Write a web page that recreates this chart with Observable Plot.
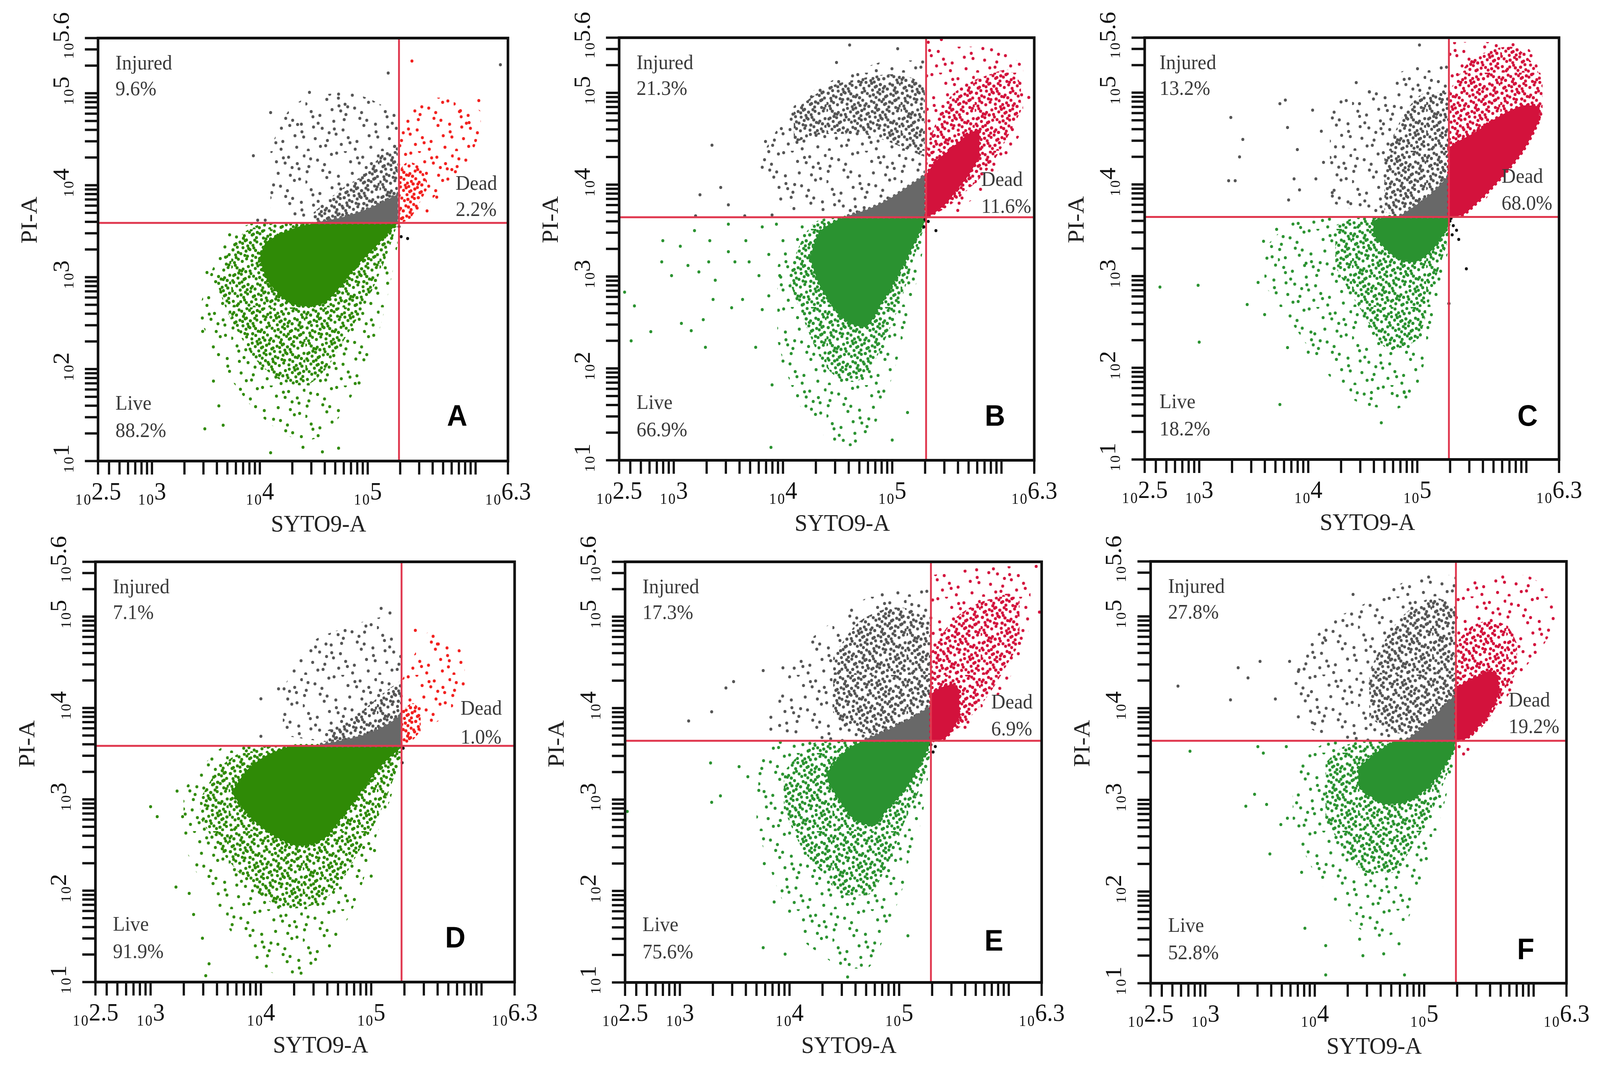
<!DOCTYPE html>
<html><head><meta charset="utf-8">
<script src="https://cdn.jsdelivr.net/npm/d3@7"></script>
<script src="https://cdn.jsdelivr.net/npm/@observablehq/plot@0.6"></script>
<style>
html,body{margin:0;padding:0;background:#fff;overflow:hidden;}
#page{position:relative;width:4317px;height:2732px;overflow:hidden;background:#fff;transform-origin:0 0;}
#page svg{position:absolute;overflow:visible;}
</style></head><body>
<svg width="0" height="0" style="position:absolute;left:0;top:0"><defs id="pats"></defs></svg>
<div id="page"></div>
<script>
// ---------- DATA (all positions in log10 units) ----------
const panelIds = ["A","B","C","D","E","F"];
const injuredPct = ["9.6%","21.3%","13.2%","7.1%","17.3%","27.8%"];
const deadPct    = ["2.2%","11.6%","68.0%","1.0%","6.9%","19.2%"];
const livePct    = ["88.2%","66.9%","18.2%","91.9%","75.6%","52.8%"];
const gateXExp   = [5.29, 5.31, 5.29, 5.275, 5.29, 5.29];
const gateYExp   = [3.59, 3.645, 3.645, 3.585, 3.643, 3.644];
const xTickExps  = [2.5, 3, 4, 5, 6.3];
const yTickExps  = [1, 2, 3, 4, 5, 5.6];
const xTitle = "SYTO9-A", yTitle = "PI-A";

const A_liveCore = [[4.00,3.20,3.20],[4.05,3.02,3.36],[4.15,2.85,3.44],[4.30,2.71,3.52],[4.45,2.68,3.57],[4.60,2.72,3.59],[4.75,2.90,3.59],[4.90,3.12,3.59],[5.05,3.30,3.59],[5.18,3.46,3.59],[5.27,3.58,3.59]];
const A_liveMid = [[3.60,2.95,2.95],[3.70,2.62,3.25],[3.80,2.40,3.42],[3.95,2.12,3.55],[4.10,1.95,3.59],[4.25,1.85,3.59],[4.40,1.82,3.59],[4.60,1.98,3.59],[4.80,2.35,3.59],[5.00,2.75,3.59],[5.15,3.15,3.59],[5.27,3.55,3.59]];
const A_liveSparse = [[3.45,2.55,2.70],[3.55,2.25,3.05],[3.70,1.95,3.40],[3.85,1.70,3.55],[4.00,1.50,3.59],[4.20,1.32,3.59],[4.40,1.22,3.59],[4.60,1.28,3.59],[4.80,1.60,3.59],[5.00,2.05,3.59],[5.15,2.60,3.59],[5.28,3.35,3.59]];
const A_injCore = [[4.55,3.59,3.60],[4.80,3.59,3.66],[5.00,3.59,3.74],[5.15,3.59,3.82],[5.28,3.59,3.90]];
const A_injMid = [[4.50,3.60,3.70],[4.75,3.60,3.95],[5.00,3.60,4.15],[5.15,3.60,4.35],[5.28,3.62,4.45]];
const A_injSparse = [[4.10,3.75,4.40],[4.30,3.62,4.85],[4.55,3.60,4.98],[4.80,3.60,5.00],[5.05,3.62,4.92],[5.28,3.66,4.75]];
const A_deadCore = [];
const A_deadMid = [[5.29,3.59,4.15],[5.38,3.62,4.25],[5.48,3.80,4.20],[5.55,3.95,4.05]];
const A_deadSparse = [[5.29,3.60,4.60],[5.45,3.70,4.85],[5.60,3.85,4.95],[5.80,4.10,4.95],[5.95,4.30,4.90],[6.05,4.60,4.80]];
const A_liveDots = [[3.49,1.35],[3.66,1.39],[3.82,1.78],[3.57,1.87],[4.10,1.09],[4.73,1.14],[3.47,2.41],[3.51,3.05],[3.72,3.46],[4.92,1.85],[4.89,2.11],[4.40,1.15],[4.58,1.10],[3.62,1.60]];
const A_injDots = [[3.94,4.32],[4.10,4.79],[4.20,4.62],[4.35,4.66],[4.46,5.01],[4.73,4.99],[5.19,5.22],[4.79,4.88],[6.23,5.31],[3.98,3.62],[4.05,3.62]];
const A_deadDots = [[5.41,5.35],[6.03,4.92],[5.86,4.81],[5.94,4.68],[5.78,4.17],[5.64,3.87],[5.55,3.72]];
const A_blackDots = [[5.37,3.42],[5.31,3.44],[5.29,3.55]];

const B_liveCore = [[4.25,3.20,3.20],[4.32,2.95,3.45],[4.45,2.70,3.58],[4.60,2.50,3.645],[4.75,2.45,3.645],[4.90,2.70,3.645],[5.05,3.00,3.645],[5.18,3.30,3.645],[5.30,3.60,3.645]];
const B_liveMid = [[4.06,2.95,3.05],[4.20,2.50,3.45],[4.35,2.10,3.62],[4.50,1.90,3.645],[4.65,1.85,3.645],[4.80,2.00,3.645],[4.95,2.35,3.645],[5.10,2.80,3.645],[5.20,3.20,3.645],[5.30,3.55,3.645]];
const B_liveSparse = [[3.95,2.30,3.10],[4.05,1.90,3.40],[4.20,1.50,3.60],[4.40,1.25,3.645],[4.60,1.15,3.645],[4.80,1.30,3.645],[5.00,1.90,3.645],[5.20,2.80,3.645],[5.31,3.45,3.645]];
const B_injCore = [[4.60,3.645,3.66],[4.80,3.645,3.74],[5.00,3.645,3.86],[5.15,3.645,3.98],[5.30,3.645,4.10]];
const B_injMid = [[4.10,4.45,4.80],[4.40,4.55,5.05],[4.70,4.55,5.15],[5.00,4.45,5.20],[5.20,4.35,5.15],[5.30,4.30,5.05]];
const B_injSparse = [[3.80,4.00,4.30],[4.10,3.75,4.85],[4.40,3.70,5.10],[4.70,3.65,5.25],[5.00,3.65,5.35],[5.30,3.70,5.35]];
const B_deadCore = [[5.31,3.645,4.10],[5.40,3.70,4.25],[5.50,3.80,4.35],[5.60,3.95,4.45],[5.70,4.10,4.55],[5.80,4.30,4.60]];
const B_deadMid = [[5.31,3.645,4.40],[5.50,3.75,4.90],[5.70,3.95,5.10],[5.90,4.20,5.20],[6.05,4.50,5.25],[6.18,4.80,5.10]];
const B_deadSparse = [[5.31,3.645,5.50],[5.50,3.70,5.50],[5.80,3.90,5.50],[6.00,4.20,5.45],[6.20,4.60,5.30]];
const B_liveDots = [[2.90,3.39],[3.06,3.33],[3.19,3.50],[3.33,3.39],[3.50,3.57],[3.66,3.39],[3.81,3.54],[3.94,3.57],[2.89,3.16],[2.98,3.01],[3.13,3.12],[3.23,3.05],[3.32,3.16],[3.38,2.96],[3.50,3.27],[3.56,3.16],[3.69,3.16],[3.78,3.01],[3.87,3.24],[4.00,3.39],[2.55,2.83],[2.64,2.68],[2.79,2.40],[3.07,2.49],[3.16,2.41],[3.27,2.53],[3.36,2.75],[3.53,2.66],[3.63,2.75],[3.81,2.64],[3.87,2.79],[3.97,3.01],[2.61,2.30],[3.29,2.23],[3.75,2.23],[4.00,2.08],[3.90,1.82],[3.89,1.14],[4.21,1.59],[5.14,1.52],[5.00,1.22]];
const B_injDots = [[3.24,3.89],[3.43,3.97],[3.35,4.43],[3.81,4.19],[3.84,4.47],[3.87,4.36],[4.10,3.74],[3.90,3.67],[3.50,3.78],[4.61,5.52],[4.49,5.33],[5.05,5.48],[3.20,3.66],[3.65,3.66]];
const B_deadDots = [[5.33,5.55],[5.45,5.58],[5.60,3.72],[6.25,4.95]];
const B_blackDots = [[5.29,3.54],[5.40,3.50],[5.33,3.60],[5.30,3.62]];

const C_liveCore = [[4.60,3.45,3.60],[4.75,3.25,3.645],[4.95,3.15,3.645],[5.15,3.30,3.645],[5.29,3.55,3.645]];
const C_liveMid = [[4.25,3.10,3.55],[4.50,2.60,3.645],[4.75,2.20,3.645],[5.00,2.30,3.645],[5.15,2.90,3.645],[5.29,3.40,3.645]];
const C_liveSparse = [[3.60,2.90,3.30],[3.90,2.40,3.60],[4.20,1.90,3.645],[4.50,1.60,3.645],[4.80,1.55,3.645],[5.00,1.80,3.645],[5.20,2.80,3.645],[5.29,3.30,3.645]];
const C_injCore = [[4.85,3.645,3.66],[5.00,3.645,3.78],[5.15,3.645,3.92],[5.29,3.645,4.10]];
const C_injMid = [[4.70,3.70,4.30],[4.90,3.65,4.80],[5.10,3.65,5.00],[5.29,3.70,5.00]];
const C_injSparse = [[4.20,3.80,4.90],[4.50,3.70,5.00],[4.80,3.65,5.20],[5.10,3.65,5.30],[5.29,3.70,5.30]];
const C_deadCore = [[5.29,3.645,4.40],[5.40,3.66,4.48],[5.55,3.80,4.58],[5.70,3.98,4.70],[5.85,4.18,4.80],[6.00,4.42,4.86],[6.12,4.70,4.85]];
const C_deadMid = [[5.29,3.645,5.00],[5.45,3.70,5.30],[5.65,3.95,5.45],[5.85,4.25,5.50],[6.00,4.50,5.40],[6.15,4.80,5.15]];
const C_deadSparse = [[5.29,3.645,5.55],[5.50,3.70,5.55],[5.80,4.10,5.55],[6.00,4.40,5.50],[6.15,4.75,5.15]];
const C_liveDots = [[2.64,2.88],[2.99,2.90],[3.00,2.28],[3.44,2.69],[3.54,2.93],[3.60,2.58],[3.59,3.38],[3.71,3.51],[3.70,3.12],[3.79,3.20],[3.81,2.22],[3.74,1.60],[3.93,3.53],[3.98,3.14],[4.00,2.17],[4.06,2.37],[4.67,1.40],[4.88,1.73],[4.77,1.72],[4.58,1.73]];
const C_injDots = [[3.29,4.73],[3.40,4.49],[3.37,4.30],[3.27,4.04],[3.33,4.04],[3.74,4.88],[3.79,4.92],[3.81,4.62],[3.90,4.38],[3.87,4.06],[3.92,3.94],[3.82,3.83],[4.04,4.81],[4.12,4.58],[4.25,4.41],[4.14,4.24],[4.07,4.06],[4.22,3.91],[4.39,3.79],[4.44,5.11],[4.47,4.88],[4.56,5.01],[5.02,5.52],[4.69,4.66]];
const C_deadDots = [];
const C_blackDots = [[5.30,3.60],[5.33,3.55],[5.36,3.50],[5.32,3.45],[5.38,3.40],[5.31,3.63],[5.45,3.08],[5.29,2.70]];

const D_liveCore = [[3.75,3.05,3.10],[3.85,2.88,3.28],[4.00,2.70,3.44],[4.15,2.58,3.53],[4.35,2.49,3.585],[4.55,2.55,3.585],[4.75,2.82,3.585],[4.95,3.15,3.585],[5.12,3.40,3.585],[5.26,3.55,3.585]];
const D_liveMid = [[3.45,2.80,3.00],[3.60,2.50,3.30],[3.80,2.20,3.50],[4.00,1.95,3.585],[4.25,1.80,3.585],[4.50,1.85,3.585],[4.70,2.05,3.585],[4.90,2.45,3.585],[5.10,2.90,3.585],[5.27,3.45,3.585]];
const D_liveSparse = [[3.30,2.50,3.10],[3.50,2.00,3.40],[3.70,1.60,3.585],[3.90,1.30,3.585],[4.10,1.10,3.585],[4.30,1.05,3.585],[4.50,1.20,3.585],[4.70,1.50,3.585],[4.90,2.00,3.585],[5.05,2.60,3.585],[5.20,3.10,3.585],[5.28,3.50,3.585]];
const D_injCore = [[4.55,3.585,3.60],[4.80,3.585,3.66],[5.00,3.585,3.73],[5.15,3.585,3.82],[5.27,3.585,3.92]];
const D_injMid = [[4.60,3.60,3.75],[4.90,3.60,3.95],[5.10,3.60,4.15],[5.27,3.62,4.30]];
const D_injSparse = [[4.20,3.70,4.20],[4.45,3.65,4.70],[4.70,3.62,4.85],[4.95,3.62,4.95],[5.15,3.65,5.00],[5.27,3.70,4.85]];
const D_deadCore = [];
const D_deadMid = [[5.28,3.60,3.95],[5.38,3.65,4.05],[5.45,3.75,3.95]];
const D_deadSparse = [[5.28,3.62,4.30],[5.40,3.65,4.60],[5.55,3.80,4.85],[5.70,3.95,4.80],[5.85,4.20,4.55]];
const D_liveDots = [[3.00,2.92],[3.06,2.81],[3.24,3.09],[3.29,2.81],[3.23,2.04],[3.35,1.97],[3.39,1.74],[3.47,1.48],[3.53,1.20],[3.50,1.07],[5.03,2.44],[5.00,2.16]];
const D_injDots = [[4.00,4.10],[4.00,3.69],[4.16,4.21],[4.21,4.21],[5.09,5.09],[5.17,5.04],[4.94,4.83],[4.59,4.70]];
const D_deadDots = [[5.40,4.85],[5.60,4.70],[5.70,4.45]];
const D_blackDots = [[5.28,3.40],[5.29,3.56]];

const E_liveCore = [[4.35,3.20,3.30],[4.45,3.00,3.45],[4.60,2.78,3.60],[4.75,2.72,3.643],[4.90,2.90,3.643],[5.05,3.10,3.643],[5.18,3.35,3.643],[5.28,3.60,3.643]];
const E_liveMid = [[3.95,2.90,3.30],[4.10,2.50,3.50],[4.30,2.20,3.643],[4.50,1.95,3.643],[4.70,1.95,3.643],[4.90,2.30,3.643],[5.05,2.75,3.643],[5.20,3.15,3.643],[5.29,3.50,3.643]];
const E_liveSparse = [[3.70,2.70,3.40],[3.90,2.00,3.643],[4.10,1.50,3.643],[4.30,1.30,3.643],[4.50,1.15,3.643],[4.70,1.15,3.643],[4.90,1.60,3.643],[5.10,2.30,3.643],[5.25,3.10,3.643],[5.29,3.50,3.643]];
const E_injCore = [[4.70,3.643,3.66],[4.90,3.643,3.76],[5.10,3.643,3.88],[5.29,3.643,4.02]];
const E_injMid = [[4.40,3.95,4.55],[4.60,3.75,4.90],[4.80,3.70,5.05],[5.00,3.68,5.10],[5.15,3.70,5.05],[5.29,3.75,4.90]];
const E_injSparse = [[3.90,3.75,4.10],[4.10,3.70,4.60],[4.40,3.65,4.95],[4.70,3.65,5.20],[5.00,3.65,5.30],[5.29,3.70,5.30]];
const E_deadCore = [[5.29,3.643,4.15],[5.38,3.65,4.22],[5.48,3.75,4.25],[5.55,3.90,4.20]];
const E_deadMid = [[5.29,3.643,4.60],[5.45,3.70,4.90],[5.65,3.90,5.10],[5.85,4.20,5.20],[6.00,4.50,5.25],[6.10,4.70,5.20]];
const E_deadSparse = [[5.29,3.643,5.45],[5.55,3.70,5.50],[5.80,4.00,5.55],[6.00,4.30,5.55],[6.20,4.90,5.40]];
const E_liveDots = [[3.28,3.40],[3.54,3.36],[3.37,3.04],[3.29,2.97],[3.62,3.25],[2.52,2.87],[3.72,3.10],[3.77,2.30],[3.86,1.88],[3.76,1.38],[3.96,1.31],[5.08,1.51],[4.53,1.06]];
const E_injDots = [[3.08,3.86],[3.29,3.96],[3.42,4.22],[3.49,4.29],[3.76,4.41],[3.83,3.90],[3.91,3.81],[3.83,3.77],[3.94,4.44]];
const E_deadDots = [[6.28,5.05],[6.25,5.55]];
const E_blackDots = [[5.29,3.60],[5.33,3.58],[5.31,3.52]];

const F_liveCore = [[4.40,3.15,3.35],[4.50,3.05,3.45],[4.65,2.95,3.58],[4.80,2.97,3.644],[4.95,3.05,3.644],[5.10,3.22,3.644],[5.28,3.55,3.644]];
const F_liveMid = [[4.10,2.80,3.40],[4.30,2.40,3.60],[4.50,2.20,3.644],[4.70,2.20,3.644],[4.90,2.50,3.644],[5.10,2.95,3.644],[5.25,3.40,3.644]];
const F_liveSparse = [[3.80,2.70,3.30],[4.00,2.20,3.55],[4.20,1.85,3.644],[4.40,1.60,3.644],[4.60,1.50,3.644],[4.80,1.60,3.644],[5.00,2.20,3.644],[5.15,2.80,3.644],[5.28,3.40,3.644]];
const F_injCore = [[4.85,3.644,3.66],[5.00,3.644,3.80],[5.15,3.644,3.98],[5.29,3.644,4.15]];
const F_injMid = [[4.50,3.90,4.40],[4.70,3.75,4.85],[4.90,3.70,5.10],[5.10,3.70,5.20],[5.29,3.80,5.10]];
const F_injSparse = [[3.80,3.90,4.40],[4.10,3.70,4.90],[4.40,3.65,5.10],[4.70,3.65,5.30],[5.00,3.65,5.45],[5.29,3.70,5.45]];
const F_deadCore = [[5.29,3.644,4.20],[5.40,3.68,4.30],[5.50,3.80,4.35],[5.60,3.95,4.40],[5.68,4.15,4.35]];
const F_deadMid = [[5.29,3.644,4.70],[5.45,3.70,4.90],[5.60,3.90,4.95],[5.75,4.20,4.90],[5.85,4.40,4.70]];
const F_deadSparse = [[5.29,3.644,5.35],[5.50,3.70,5.40],[5.70,4.00,5.45],[5.90,4.40,5.45],[6.10,4.70,5.30],[6.20,4.90,5.10]];
const F_liveDots = [[2.86,3.53],[3.48,3.58],[3.53,3.51],[3.74,3.58],[3.45,3.06],[3.37,2.93],[3.56,2.95],[3.59,2.41],[3.69,2.73],[3.75,2.80],[3.88,2.21],[3.91,1.60],[4.10,1.41],[4.41,1.48],[4.44,1.30],[4.63,1.32],[4.77,1.43],[4.10,1.09],[4.82,1.09]];
const F_injDots = [[2.75,4.24],[3.23,4.09],[3.30,4.44],[3.39,4.33],[3.50,4.51],[3.64,4.10],[3.77,4.51],[3.85,4.40],[3.97,4.18],[4.00,3.83],[4.19,4.94],[4.35,5.24],[4.10,4.74]];
const F_deadDots = [[5.32,3.58],[5.36,3.50],[5.40,3.55]];
const F_blackDots = [];

// ---------- LAYOUT / STYLE ----------
const frames = {A:[264,97,1370,1180],B:[1670,96,2790,1178],C:[3088,96,4206,1176],
                D:[257,1438,1388,2514],E:[1686,1438,2810,2515],F:[3104,1437,4226,2517]};
const injDx = {A:47,B:47,C:40,D:47,E:47,F:47};
const deadLeft = {A:141,B:143,C:155,D:146,E:136,F:156};
const deadDy = {A:[-85,-18],B:[-80,-11],C:[-88,-19],D:[-80,-6],E:[-83,-14],F:[-88,-20]};
const letterOff = {A:[137,115],B:[106,113],C:[85,111],D:[160,113],E:[129,106],F:[110,86]};
const palette = {A:1,B:2,C:2,D:1,E:2,F:2};
const colors = {G1:"#2f8a06",G2:"#2a9230",K:"#555555",R1:"#f2201e",R2:"#d3123c"};
const grayCore = "#686868", gateColor = "#e0384f";
const serif = "'Liberation Serif','Times New Roman',serif";

const shapes = {
  A:[A_liveCore,A_liveMid,A_liveSparse,A_injCore,A_injMid,A_injSparse,A_deadCore,A_deadMid,A_deadSparse,A_liveDots,A_injDots,A_deadDots,A_blackDots],
  B:[B_liveCore,B_liveMid,B_liveSparse,B_injCore,B_injMid,B_injSparse,B_deadCore,B_deadMid,B_deadSparse,B_liveDots,B_injDots,B_deadDots,B_blackDots],
  C:[C_liveCore,C_liveMid,C_liveSparse,C_injCore,C_injMid,C_injSparse,C_deadCore,C_deadMid,C_deadSparse,C_liveDots,C_injDots,C_deadDots,C_blackDots],
  D:[D_liveCore,D_liveMid,D_liveSparse,D_injCore,D_injMid,D_injSparse,D_deadCore,D_deadMid,D_deadSparse,D_liveDots,D_injDots,D_deadDots,D_blackDots],
  E:[E_liveCore,E_liveMid,E_liveSparse,E_injCore,E_injMid,E_injSparse,E_deadCore,E_deadMid,E_deadSparse,E_liveDots,E_injDots,E_deadDots,E_blackDots],
  F:[F_liveCore,F_liveMid,F_liveSparse,F_injCore,F_injMid,F_injSparse,F_deadCore,F_deadMid,F_deadSparse,F_liveDots,F_injDots,F_deadDots,F_blackDots]
};

// speckle textures (style only): Halton-sequence dot layout inside a tile
const NS = "http://www.w3.org/2000/svg";
const defs = document.getElementById("pats");
function halton(i, b){ let f=1, r=0; while(i>0){ f/=b; r+=f*(i%b); i=Math.floor(i/b);} return r; }
function addPattern(id, color, size, n, r, offset){
  const p = document.createElementNS(NS,"pattern");
  p.setAttribute("id",id); p.setAttribute("patternUnits","userSpaceOnUse");
  p.setAttribute("width",size); p.setAttribute("height",size);
  for (let k=1;k<=n;k++){
    const c = document.createElementNS(NS,"circle");
    c.setAttribute("cx",(halton(k+offset,2)*size).toFixed(1));
    c.setAttribute("cy",(halton(k+offset,3)*size).toFixed(1));
    c.setAttribute("r",r); c.setAttribute("fill",color);
    p.appendChild(c);
  }
  defs.appendChild(p);
}
for (const [k,c] of Object.entries(colors)){ addPattern("mid-"+k,c,200,300,4,11); addPattern("sp-"+k,c,200,62,4,37); }

function logTicks(lo, hi){
  const t=[10**lo];
  for (let k=Math.floor(lo);k<=Math.ceil(hi);k++) for (let m=1;m<=9;m++){const v=m*10**k; if (v>10**lo*1.0001 && v<10**hi*0.9999) t.push(v);}
  t.push(10**hi); return t;
}
const xTicks = logTicks(2.5,6.3), yTicks = logTicks(1,5.6);
const sub10 = "\u2081\u2080";

const page = document.getElementById("page");
panelIds.forEach((id,i)=>{
  const [L,T,R,B] = frames[id];
  const ml=240, mr=100, mt=110, mb=230;
  const W=R-L, H=B-T;
  const [lc,lm,ls,ic,im,is,dc,dm,ds,ldots,idots,ddots,kdots] = shapes[id];
  const G = palette[id]===1 ? "G1":"G2", Rd = palette[id]===1 ? "R1":"R2";
  const area = (data, fill) => Plot.areaY(data,{x:d=>10**d[0], y1:d=>10**d[1], y2:d=>10**d[2], fill, curve:"monotone-x"});
  // solid core with a speckled (dotted) fringe
  const core = (data, fill) => Plot.areaY(data,{x:d=>10**d[0], y1:d=>10**d[1], y2:d=>10**d[2], fill, curve:"monotone-x",
                   stroke:fill, strokeWidth:9, strokeDasharray:"0,15", strokeLinecap:"round"});
  const dots = (data, fill) => Plot.dot(data,{x:d=>10**d[0], y:d=>10**d[1], r:4, fill, stroke:null});
  const gx = 10**gateXExp[i], gy = 10**gateYExp[i];
  const lab = {fontFamily:serif, fontSize:53, fill:"#3a3a3a"};
  const svg = Plot.plot({
    width: W+ml+mr, height: H+mt+mb,
    marginLeft: ml, marginRight: mr, marginTop: mt, marginBottom: mb,
    x:{type:"log", domain:[10**2.5,10**6.3]},
    y:{type:"log", domain:[10,10**5.6]},
    style:{background:"transparent", overflow:"visible"},
    marks:[
      area(ls,`url(#sp-${G})`), area(is,"url(#sp-K)"), area(ds,`url(#sp-${Rd})`),
      area(lm,`url(#mid-${G})`), area(im,"url(#mid-K)"), area(dm,`url(#mid-${Rd})`),
      core(lc,colors[G]), core(ic,grayCore), core(dc,colors[Rd]),
      dots(ldots,colors[G]), dots(idots,colors.K), dots(ddots,colors[Rd]), dots(kdots,"#111"),
      Plot.ruleX([gx],{stroke:gateColor, strokeWidth:5}),
      Plot.ruleY([gy],{stroke:gateColor, strokeWidth:5}),
      Plot.frame({stroke:"#111", strokeWidth:7}),
      Plot.axisX(xTicks,{anchor:"bottom", tickSize:35, tickFormat:()=>"", label:null, strokeWidth:6, stroke:"#111"}),
      Plot.axisY(yTicks,{anchor:"left", tickSize:35, tickFormat:()=>"", label:null, strokeWidth:6, stroke:"#111"}),
      Plot.text(xTickExps,{x:d=>10**d, frameAnchor:"bottom", dy:98, text:d=>sub10+d, textAnchor:"middle", lineAnchor:"bottom", fontFamily:serif, fontSize:64, fill:"#111"}),
      Plot.text(yTickExps,{y:d=>10**d, frameAnchor:"left", dx:-99, dy:-6, rotate:-90, text:d=>sub10+d, textAnchor:"middle", lineAnchor:"middle", fontFamily:serif, fontSize:62, fill:"#111"}),
      Plot.text([xTitle],{frameAnchor:"bottom", dx:42, dy:180, text:d=>d, textAnchor:"middle", lineAnchor:"bottom", fontFamily:serif, fontSize:62, fill:"#222"}),
      Plot.text([yTitle],{frameAnchor:"top-left", dx:-185, dy:466, rotate:-90, text:d=>d, textAnchor:"middle", lineAnchor:"middle", fontFamily:serif, fontSize:62, fill:"#222"}),
      Plot.text(["Injured"],{frameAnchor:"top-left", dx:injDx[id], dy:80, text:d=>d, textAnchor:"start", lineAnchor:"bottom", ...lab}),
      Plot.text([injuredPct[i]],{frameAnchor:"top-left", dx:injDx[id], dy:146, text:d=>d, textAnchor:"start", lineAnchor:"bottom", ...lab}),
      Plot.text(["Live"],{frameAnchor:"bottom-left", dx:injDx[id], dy:-132, text:d=>d, textAnchor:"start", lineAnchor:"bottom", ...lab}),
      Plot.text([livePct[i]],{frameAnchor:"bottom-left", dx:injDx[id], dy:-62, text:d=>d, textAnchor:"start", lineAnchor:"bottom", ...lab}),
      Plot.text([{t:"Dead",v:gy}],{y:d=>d.v, frameAnchor:"right", dx:-deadLeft[id], dy:deadDy[id][0], text:d=>d.t, textAnchor:"start", lineAnchor:"bottom", ...lab}),
      Plot.text([{t:deadPct[i],v:gy}],{y:d=>d.v, frameAnchor:"right", dx:-deadLeft[id], dy:deadDy[id][1], text:d=>d.t, textAnchor:"start", lineAnchor:"bottom", ...lab}),
      Plot.text([id],{frameAnchor:"bottom-right", dx:-letterOff[id][0], dy:-letterOff[id][1], text:d=>d, textAnchor:"middle", lineAnchor:"middle", fontFamily:"'Liberation Sans',Arial,sans-serif", fontWeight:"bold", fontSize:76, fill:"#000"})
    ]
  });
  svg.style.left = (L-ml)+"px";
  svg.style.top = (T-mt)+"px";
  page.appendChild(svg);
});
// fit the 4317×2732 layout into the actual viewport
const sx = window.innerWidth/4317, sy = window.innerHeight/2732;
page.style.transform = `scale(${sx},${sy})`;
</script>
</body></html>
